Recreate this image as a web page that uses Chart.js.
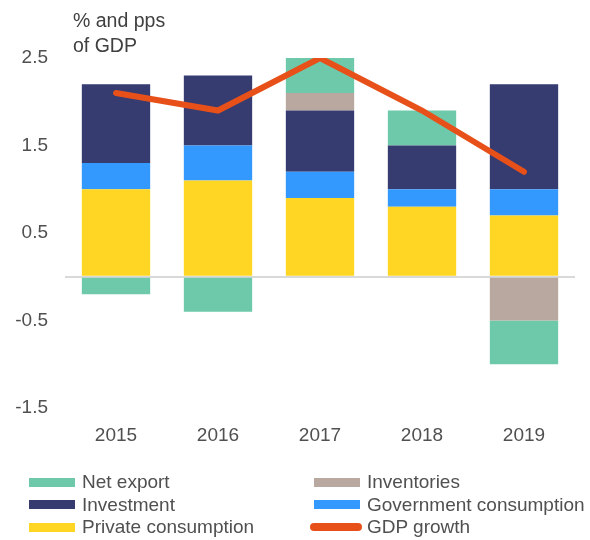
<!DOCTYPE html>
<html>
<head>
<meta charset="utf-8">
<script src="https://cdn.jsdelivr.net/npm/chart.js@4"></script>
<style>
  body { margin: 0; background: #fff; font-family: "Liberation Sans", Arial, sans-serif; }
  #wrap { position: relative; width: 590px; height: 540px; }
  #unit { position: absolute; left: 73px; top: 8px; font-size: 19.5px; line-height: 25px; color: #404040; }
  #legend { position: absolute; left: 0; top: 471px; width: 590px; }
  .item { position: absolute; font-size: 19px; line-height: 22px; color: #505050; white-space: nowrap; }
  .sw { position: absolute; width: 46px; height: 9px; top: 6.5px; }
  .item span.t { position: absolute; left: 53px; top: 0; }
</style>
</head>
<body>
<div id="wrap">
  <canvas id="gdp-chart" width="590" height="540"></canvas>
  <div id="unit">% and pps<br>of GDP</div>
  <div id="legend"></div>
</div>
<script>
  const years = ['2015', '2016', '2017', '2018', '2019'];
  const privateConsumption = [1.0, 1.1, 0.9, 0.8, 0.7];
  const governmentConsumption = [0.3, 0.4, 0.3, 0.2, 0.3];
  const investment = [0.9, 0.8, 0.7, 0.5, 1.2];
  const inventories = [0, 0, 0.2, 0, -0.5];
  const netExport = [-0.2, -0.4, 0.4, 0.4, -0.5];
  const gdpGrowth = [2.1, 1.9, 2.5, 1.9, 1.2];
  const yTicks = [-1.5, -0.5, 0, 0.5, 1.5, 2.5];

  // legend layout: [dataset label, column, row]
  const legendOrder = [
    ['Net export', 0, 0], ['Inventories', 1, 0],
    ['Investment', 0, 1], ['Government consumption', 1, 1],
    ['Private consumption', 0, 2], ['GDP growth', 1, 2]
  ];

  function barSet(label, data, color) {
    return {
      type: 'bar', label: label, data: data, stack: 's',
      backgroundColor: color, borderWidth: 0,
      barPercentage: 0.67, categoryPercentage: 1.0, order: 2
    };
  }

  const ctx = document.getElementById('gdp-chart').getContext('2d');
  const chart = new Chart(ctx, {
    data: {
      labels: years,
      datasets: [
        {
          type: 'line', label: 'GDP growth', data: gdpGrowth,
          borderColor: '#E8501A', backgroundColor: '#E8501A',
          borderWidth: 6, pointRadius: 0, borderCapStyle: 'round',
          borderJoinStyle: 'miter', tension: 0, order: 1
        },
        barSet('Private consumption', privateConsumption, '#FFD624'),
        barSet('Government consumption', governmentConsumption, '#3399FF'),
        barSet('Investment', investment, '#363B70'),
        barSet('Inventories', inventories, '#B8A8A0'),
        barSet('Net export', netExport, '#6DC9AA')
      ]
    },
    options: {
      responsive: false,
      animation: false,
      layout: { padding: { top: 58, right: 15, bottom: 92, left: 0 } },
      plugins: { legend: { display: false }, tooltip: { enabled: false } },
      scales: {
        x: {
          stacked: true,
          grid: { display: false },
          border: { display: false },
          ticks: { color: '#505050', font: { size: 19, family: 'Liberation Sans' }, padding: 8 },
          afterFit: function (scale) { scale.height = 40; }
        },
        y: {
          stacked: true,
          min: -1.5,
          max: 2.5,
          afterBuildTicks: function (scale) {
            scale.ticks = yTicks.map(v => ({ value: v }));
          },
          afterFit: function (scale) { scale.width = 65; },
          grid: {
            drawTicks: false,
            lineWidth: 2,
            color: function (c) { return c.tick && c.tick.value === 0 ? '#D9D9D9' : 'rgba(0,0,0,0)'; }
          },
          border: { display: false },
          ticks: {
            color: '#505050',
            font: { size: 19, family: 'Liberation Sans' },
            padding: 17,
            callback: function (v) { return v === 0 ? '' : v.toFixed(1); }
          }
        }
      }
    }
  });

  const legendDiv = document.getElementById('legend');
  legendOrder.forEach(function (it) {
    const ds = chart.data.datasets.find(d => d.label === it[0]);
    const item = document.createElement('div');
    item.className = 'item';
    item.style.left = (it[1] === 0 ? 29 : 314) + 'px';
    item.style.top = (it[2] * 22.5) + 'px';
    const sw = document.createElement('div');
    sw.className = 'sw';
    sw.style.background = ds.type === 'line' ? ds.borderColor : ds.backgroundColor;
    if (ds.type === 'line') { sw.style.height = '8px'; sw.style.top = '7px'; sw.style.borderRadius = '4px'; sw.style.width = '52px'; sw.style.left = '-4px'; }
    const t = document.createElement('span');
    t.className = 't';
    t.textContent = it[0];
    item.appendChild(sw);
    item.appendChild(t);
    legendDiv.appendChild(item);
  });
</script>
</body>
</html>
